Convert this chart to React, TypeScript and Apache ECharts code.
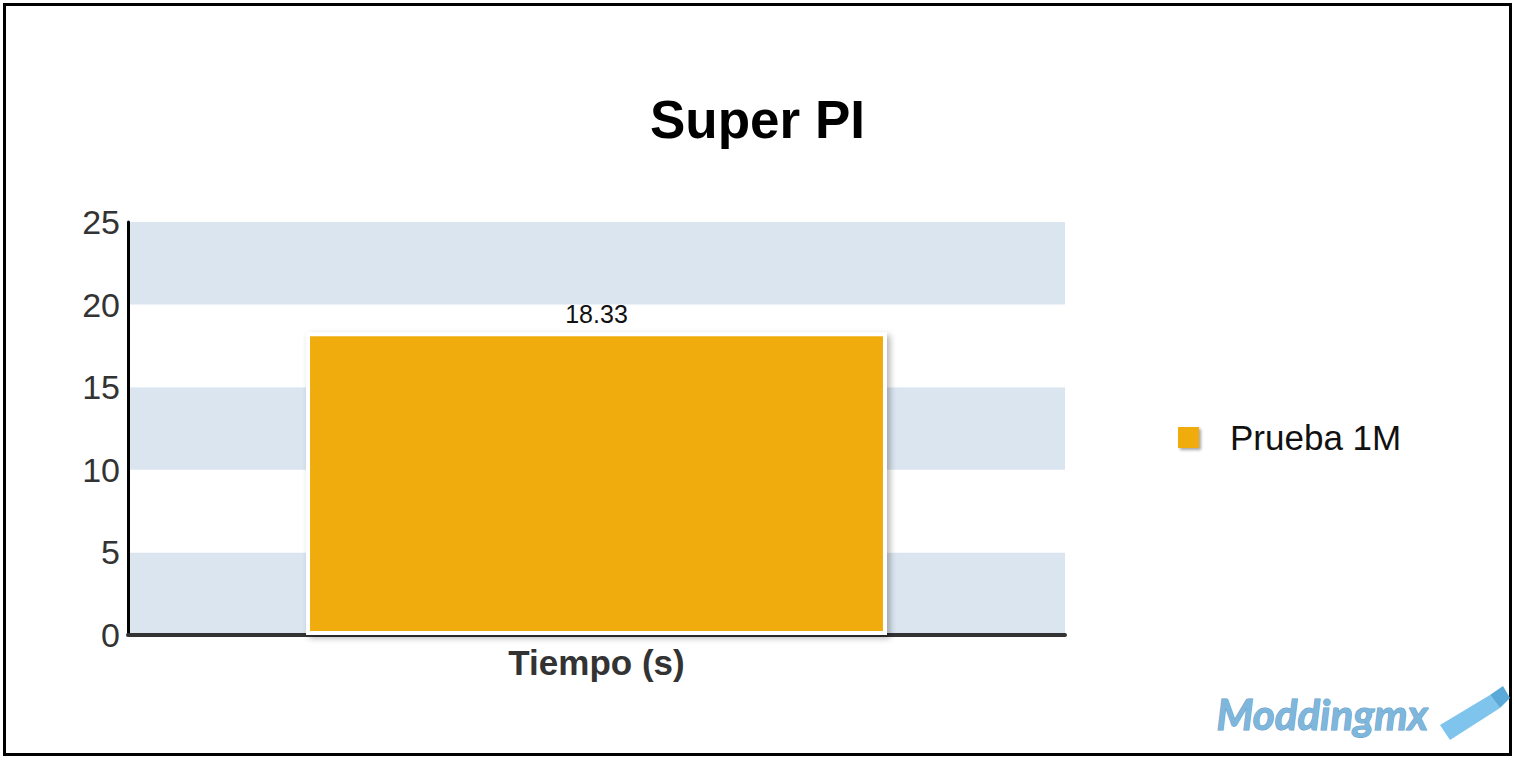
import React, { useEffect, useRef } from "react";
import * as echarts from "echarts";

const categories = ["Tiempo (s)"];
const seriesName = "Prueba 1M";
const values = [18.33];
const yTicks = [0, 5, 10, 15, 20, 25];
const titleText = "Super PI";
const watermark = "Moddingmx";

export default function App() {
  const ref = useRef<HTMLDivElement>(null);
  useEffect(() => {
    if (!ref.current) return;
    const chart = echarts.init(ref.current, null, { renderer: "svg" });
    const font = "Liberation Sans, Arial, sans-serif";
    chart.setOption({
      animation: false,
      backgroundColor: "#ffffff",
      textStyle: { fontFamily: font },
      title: {
        text: titleText,
        left: "center",
        top: 93,
        padding: 0,
        textStyle: { fontSize: 53, fontWeight: "bold", color: "#000", fontFamily: font },
      },
      legend: {
        data: [seriesName],
        orient: "vertical",
        left: 1178,
        top: 420,
        padding: 0,
        icon: "rect",
        itemWidth: 21,
        itemHeight: 21,
        textStyle: { fontSize: 35, color: "#111", fontFamily: font, padding: [0, 0, 0, 26] },
        itemStyle: { shadowColor: "rgba(0,0,0,0.35)", shadowBlur: 3, shadowOffsetX: 2, shadowOffsetY: 2, borderWidth: 0 },
      },
      grid: { left: 128, right: 450, top: 222, bottom: 125, containLabel: false },
      xAxis: {
        type: "category",
        data: categories,
        axisLine: { lineStyle: { color: "#333", width: 4 } },
        axisTick: { show: false },
        axisLabel: { fontSize: 35, fontWeight: "bold", color: "#333", margin: 10, fontFamily: font },
      },
      yAxis: {
        type: "value",
        min: yTicks[0],
        max: yTicks[yTicks.length - 1],
        interval: 5,
        axisLine: { show: true, lineStyle: { color: "#000", width: 3 } },
        axisTick: { show: false },
        splitLine: { show: false },
        splitArea: { show: true, areaStyle: { color: ["#dae5f0", "#ffffff"] } },
        axisLabel: { fontSize: 34, color: "#333", margin: 8, fontFamily: font },
      },
      series: [
        {
          name: seriesName,
          type: "bar",
          data: values,
          barWidth: "62%",
          itemStyle: {
            color: "#f0ac10",
            borderColor: "#ffffff",
            borderWidth: 4,
            shadowColor: "rgba(0,0,0,0.3)",
            shadowBlur: 6,
            shadowOffsetX: 3,
            shadowOffsetY: 3,
          },
          label: {
            show: true,
            position: "top",
            distance: 6,
            fontSize: 25,
            color: "#111",
            fontFamily: font,
          },
        },
      ],
      graphic: [
        {
          type: "rect",
          shape: { x: 4.5, y: 4.5, width: 1506, height: 750 },
          style: { fill: "none", stroke: "#000", lineWidth: 3 },
          silent: true,
        },
        {
          type: "text",
          left: 1216,
          top: 692,
          style: {
            text: watermark,
            font: "italic bold 42px Lato, sans-serif",
            fill: "#7fb6dc",
            stroke: "#5a9ac6",
            lineWidth: 1,
          },
        },
        {
          type: "polygon",
          shape: { points: [[1440, 725], [1490, 695], [1500, 708], [1450, 740]] },
          style: { fill: "#7ec4ec" },
        },
        {
          type: "polygon",
          shape: { points: [[1490, 695], [1503, 686], [1510, 698], [1500, 708]] },
          style: { fill: "#5aa9d8" },
        },
      ],
    });
    return () => chart.dispose();
  }, []);
  return (
    <div style={{ position: "fixed", left: 0, top: 0 }}>
      <div ref={ref} style={{ width: 1515, height: 760 }} />
    </div>
  );
}
